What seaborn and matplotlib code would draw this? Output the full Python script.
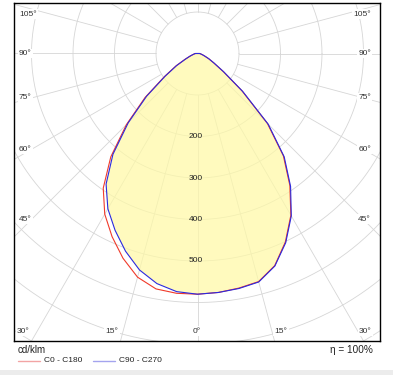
import numpy as np
import pandas as pd
import matplotlib
matplotlib.use('Agg')
import matplotlib.pyplot as plt
from matplotlib.lines import Line2D
from matplotlib.patches import Rectangle
import seaborn as sns

# luminous intensity (cd/klm) per C-plane, gamma 0..90 deg
gamma = [0, 5, 10, 15, 20, 25, 30, 35, 40, 45, 50, 55, 60, 65, 70, 75, 80, 85, 90]
c0 = [580, 578, 574, 569, 544, 501, 450, 388, 322, 238, 140, 76, 45, 30, 19, 13, 9, 7, 5]
c180 = [580, 580, 576, 558, 525, 487, 447, 396, 325, 242, 165, 98, 60, 33, 20, 13, 9, 7, 5]
c90 = [580, 578, 575, 570, 545, 503, 452, 391, 325, 241, 142, 77, 46, 30, 19, 13, 9, 7, 5]
c270 = [580, 576, 563, 540, 507, 470, 432, 384, 317, 236, 160, 95, 58, 32, 20, 13, 9, 7, 5]

planes = ['C0 - C180', 'C90 - C270']
colors = {'C0 - C180': '#f03a2a', 'C90 - C270': '#2a2ae0'}
legend_colors = ['#f2a4a4', '#a4a4ee']
ring_values = [200, 300, 400, 500]
side_angles = [105, 90, 75, 60, 45]
bottom_angles = [30, 15, 0]


def to_xy(g, i, side):
    g = np.radians(np.asarray(g, dtype=float))
    i = np.asarray(i, dtype=float)
    return side * i * np.sin(g), -i * np.cos(g)


rows = []
for name, left, right in [(planes[0], c180, c0), (planes[1], c270, c90)]:
    lx, ly = to_xy(gamma[::-1], left[::-1], -1)
    rx, ry = to_xy(gamma, right, 1)
    xs = np.concatenate([lx, rx, lx[:1]])
    ys = np.concatenate([ly, ry, ly[:1]])
    for k, (x, y) in enumerate(zip(xs, ys)):
        rows.append({'plane': name, 'order': k, 'x': x, 'y': y})
df = pd.DataFrame(rows)

sns.set_style('white')
plt.rcParams['font.family'] = ['Liberation Sans', 'DejaVu Sans']

W, H = 393, 375
fig = plt.figure(figsize=(W / 100, H / 100), dpi=100)
# pixel geometry of the reference: pole at (197.5, 53.5), 0.415 px per cd/klm
cx, cy, k = 197.5, 53.5, 0.415
fl, fr, ft, fb = 14, 380, 3, 341
ax = fig.add_axes([fl / W, 1 - fb / H, (fr - fl) / W, (fb - ft) / H])
ax.set_xlim((fl - cx) / k, (fr - cx) / k)
ax.set_ylim(-(fb - cy) / k, (cy - ft) / k)
ax.set_xticks([])
ax.set_yticks([])
for sp in ax.spines.values():
    sp.set_color('black')
    sp.set_linewidth(1.0)

grid_c = '#d6d6d6'
t = np.linspace(0, 2 * np.pi, 400)
for r in range(100, 1000, 100):
    ax.plot(r * np.cos(t), r * np.sin(t), color=grid_c, lw=0.6, zorder=1)
for a in range(0, 360, 15):
    ar = np.radians(a)
    ax.plot([100 * np.sin(ar), 1000 * np.sin(ar)], [-100 * np.cos(ar), -1000 * np.cos(ar)],
            color=grid_c, lw=0.6, zorder=1)

fill = df[df['plane'] == planes[1]]
ax.fill(fill['x'], fill['y'], color='#fff9a6', alpha=0.72, lw=0, zorder=2)

sns.lineplot(data=df, x='x', y='y', hue='plane', palette=colors, sort=False,
             estimator=None, units='plane', lw=0.8, legend=False, ax=ax, zorder=3)
ax.set_xlabel('')
ax.set_ylabel('')

for v in ring_values:
    ax.text(-4, -v, str(v), fontsize=6, ha='center', va='center', color='#222222', zorder=4)

lab_kw = dict(fontsize=6, color='#333333', va='center', zorder=5,
              bbox=dict(boxstyle='square,pad=0.15', fc='white', ec='none'))
x_in = 165.5 / k
for a in side_angles:
    yy = -x_in / np.tan(np.radians(a)) if a != 90 else 0.0
    yy = min(yy, (cy - 14) / k)
    ax.text((19 - cx) / k, yy, f'{a}°', ha='left', **lab_kw)
    ax.text((371 - cx) / k, yy, f'{a}°', ha='right', **lab_kw)
yb = -(331 - cy) / k
yedge = (fb - cy) / k
for a in bottom_angles:
    xx = yedge * np.tan(np.radians(a))
    if a == 0:
        ax.text(-3, yb, '0°', ha='center', **lab_kw)
    else:
        ax.text(-xx - 2 / k, yb, f'{a}°', ha='right', **lab_kw)
        ax.text(min(xx, (359 - cx) / k), yb, f'{a}°', ha='left', **lab_kw)

fig.text(18 / W, 1 - 350 / H, 'cd/klm', fontsize=7, ha='left', va='center', color='#222222')
fig.text(373 / W, 1 - 350 / H, 'η = 100%', fontsize=7.2, ha='right', va='center', color='#222222')
yl = 1 - 361 / H
fig.add_artist(Line2D([18 / W, 40 / W], [yl, yl], color=legend_colors[0], lw=1.0))
fig.text(44 / W, yl, planes[0], fontsize=6, ha='left', va='center', color='#222222')
fig.add_artist(Line2D([93 / W, 115 / W], [yl, yl], color=legend_colors[1], lw=1.0))
fig.text(119 / W, yl, planes[1], fontsize=6, ha='left', va='center', color='#222222')
fig.add_artist(Rectangle((0, 0), 1, 5 / H, transform=fig.transFigure, color='#ececec', lw=0))

fig.savefig('out.png', dpi=100)
